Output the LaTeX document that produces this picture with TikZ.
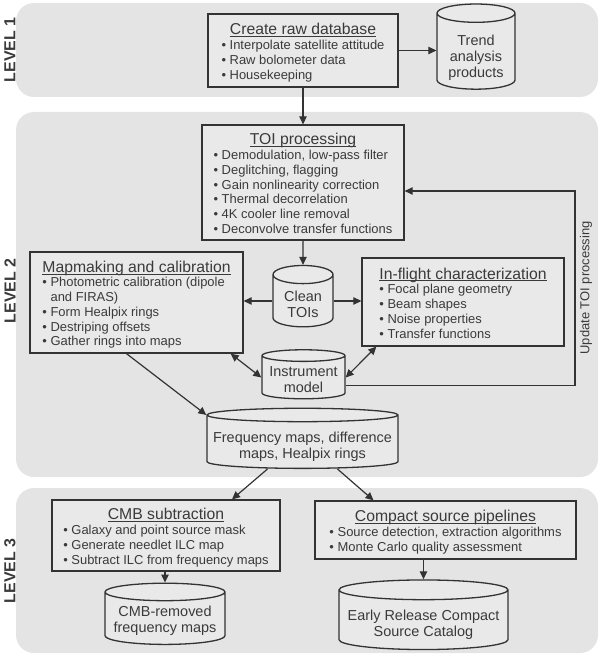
\documentclass[tikz,border=0pt]{standalone}
\usepackage{fontspec}
\setmainfont{Liberation Sans}
\usepackage{xcolor}
\usepackage{tikz}
\usetikzlibrary{positioning,shapes.geometric,arrows.meta}

\definecolor{bandgray}{HTML}{E4E4E4}
\definecolor{boxgray}{HTML}{E9E9E9}
\definecolor{ink}{HTML}{333333}
\definecolor{txt}{HTML}{3A3A3A}

% underlined box title, line close under the baseline
\newcommand{\undertitle}[1]{\setbox0\hbox{#1}\rlap{\rule[-2.2bp]{\wd0}{0.9bp}}\box0}
% box body: centred title over left-aligned bullets
\newcommand{\stagebody}[2]{%
  \begin{tabular}{@{}l@{}}
    \multicolumn{1}{@{}c@{}}{\fontsize{15.8}{18}\selectfont\rule{0pt}{17.6bp}\undertitle{#1}}\\
    #2
  \end{tabular}}
% pushes cylinder text down below the top ellipse
\newcommand{\dropby}[1]{\rule{0pt}{\dimexpr10.6bp+#1bp*2\relax}}

\tikzset{
  band/.style={fill=bandgray, rounded corners=18bp},
  stage/.style={draw=ink, fill=boxgray, line width=1.3bp, inner sep=0pt,
                text=txt, font=\fontsize{13}{14.8}\selectfont},
  store/.style={cylinder, shape border rotate=90, draw=ink,
                fill=boxgray, line width=1.3bp, inner sep=0pt, align=center,
                text=txt, font=\fontsize{14.5}{15.8}\selectfont},
  flow/.style={-{Triangle[length=8bp,width=7.5bp]}, draw=ink, line width=1.2bp},
  twoway/.style={{Triangle[length=8bp,width=7.5bp]}-{Triangle[length=8bp,width=7.5bp]},
                 draw=ink, line width=1.2bp},
  lvl/.style={rotate=90, text=txt, font=\fontsize{16}{18}\selectfont\bfseries}
}

\begin{document}
\begin{tikzpicture}[x=1bp,y=-1bp]
  \useasboundingbox (0,0) rectangle (600,656);
  % level bands
  \fill[band] (16,3) rectangle (598,97);
  \fill[band] (16,112) rectangle (598,477);
  \fill[band] (16,488) rectangle (598,653);
  \node[lvl] (lv1) at (10,50) {LEVEL 1};
  \node[lvl] (lv2) at (10,291) {LEVEL 2};
  \node[lvl] (lv3) at (10,571) {LEVEL 3};

  % level 1
  \node[stage, minimum width=190bp, minimum height=73bp] (raw) at (303,50.5)
    {\stagebody{Create raw database}{• Interpolate satellite attitude\\
      • Raw bolometer data\\ • Housekeeping}};
  \node[store, minimum width=78bp, minimum height=73bp, aspect=0.33] (trend) at (476,51.5)
    {\dropby{6}Trend\\analysis\\products};

  % level 2
  \node[stage, minimum width=202bp, minimum height=115bp] (toi) at (303,182.5)
    {\stagebody{TOI processing}{• Demodulation, low-pass filter\\
      • Deglitching, flagging\\ • Gain nonlinearity correction\\
      • Thermal decorrelation\\ • 4K cooler line removal\\
      • Deconvolve transfer functions}};
  \node[store, minimum width=60bp, minimum height=58bp, aspect=0.48] (clean) at (303,301)
    {\dropby{3.5}Clean\\TOIs};
  \node[stage, minimum width=213bp, minimum height=101bp] (map) at (136.5,302.5)
    {\stagebody{Mapmaking and calibration}{• Photometric calibration (dipole\\
      \phantom{• }and FIRAS)\\ • Form Healpix rings\\ • Destriping offsets\\
      • Gather rings into maps}};
  \node[stage, minimum width=202bp, minimum height=88bp] (flight) at (463,302)
    {\stagebody{In-flight characterization}{• Focal plane geometry\\
      • Beam shapes\\ • Noise properties\\ • Transfer functions}};
  \node[store, minimum width=83bp, minimum height=49bp, aspect=0.17] (inst) at (303.5,377.5)
    {\dropby{2}Instrument\\model};
  \node[store, minimum width=191bp, minimum height=46bp, aspect=0.075] (freq) at (302.5,442)
    {\dropby{5}Frequency maps, difference\\maps, Healpix rings};
  \coordinate (back) at (575,191);
  \node[rotate=90, text=txt, font=\fontsize{13}{15}\selectfont] (upd) at (586,288)
    {Update TOI processing};

  % level 3
  \node[stage, minimum width=228bp, minimum height=71bp] (cmb) at (166,535.5)
    {\stagebody{CMB subtraction}{• Galaxy and point source mask\\
      • Generate needlet ILC map\\ • Subtract ILC from frequency maps}};
  \node[stage, minimum width=261bp, minimum height=58bp] (cps) at (445.5,530)
    {\stagebody{Compact source pipelines}{• Source detection, extraction algorithms\\
      • Monte Carlo quality assessment}};
  \node[store, minimum width=120bp, minimum height=43bp, aspect=0.17] (cmbr) at (165,618.5)
    {\dropby{2.5}CMB-removed\\frequency maps};
  \node[store, minimum width=169bp, minimum height=50bp, aspect=0.13] (ercsc) at (423.5,620)
    {\dropby{5}Early Release Compact\\Source Catalog};

  % connectors
  \draw[flow] (raw.south) -- (toi.north);
  \draw[flow] (raw.east) -- (trend.west |- raw.east);
  \draw[flow] (toi.south) -- (clean.north);
  \draw[flow] (clean.west) -- (clean.west -| map.east);
  \draw[flow] (clean.east) -- (clean.east -| flight.west);
  \draw[twoway] ([xshift=-13bp]map.south east) -- (inst.west);
  \draw[twoway] ([xshift=15bp]flight.south west) -- (inst.east);
  \draw[flow] ([yshift=-8bp]inst.east) -| (back) -- (back -| toi.east);
  \draw[flow] ([xshift=-10bp]map.south) -- (freq.before top);
  \draw[flow] ([xshift=-35bp]freq.south) -- ([xshift=66bp]cmb.north);
  \draw[flow] ([xshift=35bp]freq.south) -- ([xshift=-72bp]cps.north);
  \draw[flow] (cmbr.north |- cmb.south) -- (cmbr.north);
  \draw[flow] (ercsc.north |- cps.south) -- (ercsc.north);
\end{tikzpicture}
\end{document}
